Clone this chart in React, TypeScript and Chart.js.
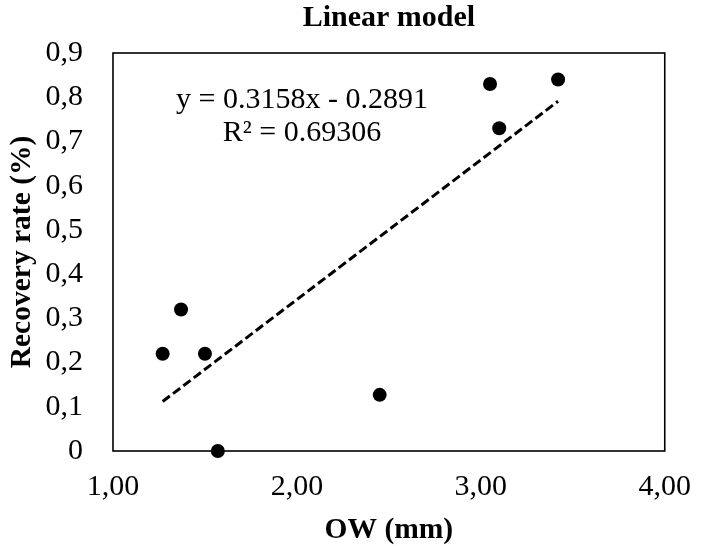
import React, { useEffect, useRef } from "react";
import { Chart, registerables } from "chart.js";

Chart.register(...registerables);

// ---- data ----
const ow = [1.27, 1.37, 1.5, 1.57, 2.45, 3.05, 3.1, 3.42];
const recovery = [0.22, 0.32, 0.22, 0.0, 0.127, 0.83, 0.73, 0.84];
const xTickLabels = ["1,00", "2,00", "3,00", "4,00"];
const yTickLabels = ["0", "0,1", "0,2", "0,3", "0,4", "0,5", "0,6", "0,7", "0,8", "0,9"];
const trendSlope = 0.3158;
const trendIntercept = -0.2891;
const equationLines = ["y = 0.3158x - 0.2891", "R² = 0.69306"];
const chartTitle = "Linear model";
const xTitle = "OW (mm)";
const yTitle = "Recovery rate (%)";

const FONT = "'Liberation Serif', 'Times New Roman', serif";

export default function App() {
  const ref = useRef<HTMLCanvasElement>(null);

  useEffect(() => {
    const canvas = ref.current;
    if (!canvas) return;
    const xmin = Math.min(...ow);
    const xmax = Math.max(...ow);
    const trend = [xmin, xmax].map((x) => ({ x, y: trendSlope * x + trendIntercept }));

    const framePlugin = {
      id: "frame",
      beforeDatasetsDraw(chart: any) {
        const { ctx, chartArea } = chart;
        ctx.save();
        ctx.strokeStyle = "#000";
        ctx.lineWidth = 1.6;
        ctx.strokeRect(chartArea.left, chartArea.top, chartArea.right - chartArea.left, chartArea.bottom - chartArea.top);
        ctx.restore();
      },
      afterDraw(chart: any) {
        const { ctx, chartArea } = chart;
        ctx.save();
        ctx.fillStyle = "#000";
        ctx.font = `30px ${FONT}`;
        ctx.textAlign = "center";
        ctx.textBaseline = "alphabetic";
        const cx = chartArea.left + 189;
        ctx.fillText(equationLines[0], cx, chartArea.top + 55);
        ctx.fillText(equationLines[1], cx, chartArea.top + 88);
        ctx.restore();
      },
    };

    const chart = new Chart(canvas, {
      type: "scatter",
      data: {
        datasets: [
          {
            type: "line",
            label: "trend",
            data: trend,
            borderColor: "#000",
            borderWidth: 3,
            borderDash: [9, 4],
            pointRadius: 0,
            fill: false,
            order: 2,
          } as any,
          {
            label: "data",
            data: ow.map((x, i) => ({ x, y: recovery[i] })),
            backgroundColor: "#000",
            borderWidth: 0,
            pointRadius: 7,
            pointHoverRadius: 7,
            clip: false,
            order: 1,
          } as any,
        ],
      },
      options: {
        animation: false,
        responsive: false,
        layout: { padding: { left: 0, right: 29, top: 0, bottom: 0 } },
        plugins: {
          legend: { display: false },
          tooltip: { enabled: false },
          title: {
            display: true,
            text: chartTitle,
            fullSize: false,
            color: "#000",
            font: { family: FONT, size: 30, weight: "bold", lineHeight: 1.2 },
            padding: { top: 0, bottom: 17 },
          } as any,
        },
        scales: {
          x: {
            type: "linear",
            min: 1,
            max: 4,
            grid: { display: false, drawTicks: false },
            border: { display: false },
            ticks: {
              stepSize: 1,
              padding: 18,
              color: "#000",
              font: { family: FONT, size: 30 },
              callback: (_v: any, i: number) => xTickLabels[i],
            },
            title: {
              display: true,
              text: xTitle,
              color: "#000",
              font: { family: FONT, size: 29.5, weight: "bold", lineHeight: 1 },
              padding: { top: 0, bottom: 1 },
            },
            afterFit: (scale: any) => {
              scale.height = 95;
            },
          },
          y: {
            type: "linear",
            min: 0,
            max: 0.9,
            grid: { display: false, drawTicks: false },
            border: { display: false },
            ticks: {
              stepSize: 0.1,
              padding: 30,
              color: "#000",
              font: { family: FONT, size: 30 },
              callback: (_v: any, i: number) => yTickLabels[i],
            },
            title: {
              display: true,
              text: yTitle,
              color: "#000",
              font: { family: FONT, size: 29.5, weight: "bold", lineHeight: 1.2 },
              padding: { top: 5, bottom: 0 },
            },
            afterFit: (scale: any) => {
              scale.width = 113;
            },
          },
        },
      } as any,
      plugins: [framePlugin],
    });

    return () => chart.destroy();
  }, []);

  return (
    <div style={{ position: "absolute", left: 0, top: 0, width: 709, height: 546 }}>
      <canvas ref={ref} width={709} height={546} style={{ display: "block" }} />
    </div>
  );
}
